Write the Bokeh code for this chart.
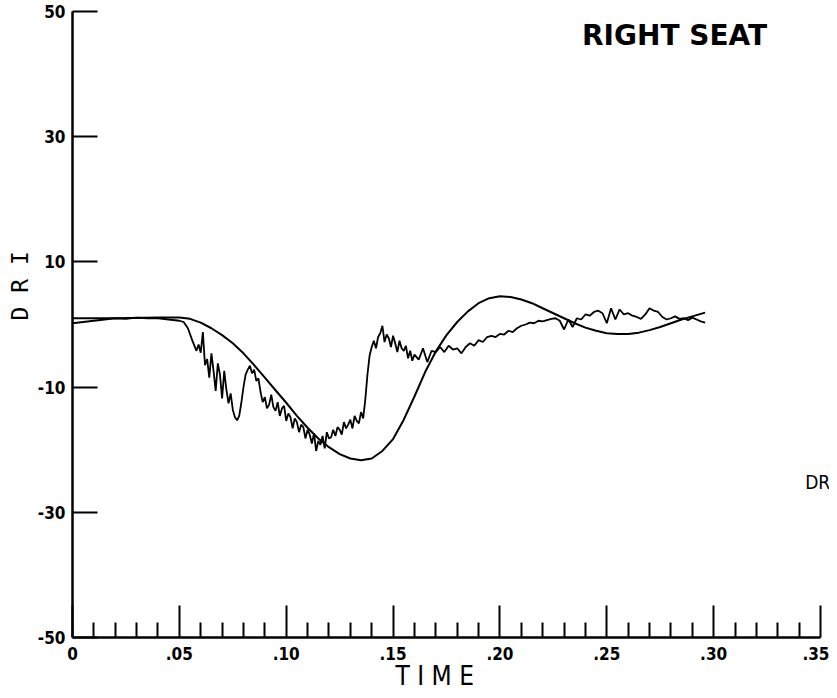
from bokeh.plotting import figure
from bokeh.models import FixedTicker, Label, Range1d, Title
from bokeh.embed import file_html
from bokeh.resources import INLINE

# ---------------- data ----------------
x_major = [0, 0.05, 0.1, 0.15, 0.2, 0.25, 0.3, 0.35]
x_tick_labels = ["0", ".05", ".10", ".15", ".20", ".25", ".30", ".35"]
x_minor = [0.01, 0.02, 0.03, 0.04, 0.06, 0.07, 0.08, 0.09, 0.11, 0.12, 0.13, 0.14,
           0.16, 0.17, 0.18, 0.19, 0.21, 0.22, 0.23, 0.24, 0.26, 0.27, 0.28, 0.29,
           0.31, 0.32, 0.33, 0.34]
y_major = [-50, -30, -10, 10, 30, 50]
y_tick_labels = ["-50", "-30", "-10", "10", "30", "50"]

# smooth (model) curve
smooth_t = [0.0, 0.02, 0.04, 0.05, 0.055, 0.06, 0.065, 0.07, 0.075, 0.08, 0.085, 0.09,
            0.095, 0.1, 0.105, 0.11, 0.115, 0.12, 0.125, 0.13, 0.135, 0.14, 0.145, 0.15,
            0.155, 0.16, 0.165, 0.17, 0.175, 0.18, 0.185, 0.19, 0.195, 0.2, 0.205, 0.21,
            0.215, 0.22, 0.225, 0.23, 0.235, 0.24, 0.245, 0.25, 0.255, 0.26, 0.265, 0.27,
            0.275, 0.28, 0.285, 0.29, 0.296]
smooth_dri = [1.0, 1.0, 1.1, 1.1, 0.9, 0.3, -0.6, -1.7, -3.0, -4.6, -6.5, -8.5,
              -10.5, -12.5, -14.6, -16.5, -18.2, -19.6, -20.7, -21.4, -21.7, -21.4, -20.2, -18.3,
              -15.2, -11.5, -7.6, -4.3, -1.7, 0.4, 2.1, 3.4, 4.2, 4.5, 4.4, 4.0,
              3.4, 2.6, 1.8, 1.0, 0.2, -0.5, -1.0, -1.4, -1.5, -1.5, -1.3, -0.9,
              -0.4, 0.2, 0.8, 1.3, 1.9]

# measured (test) curve
test_t = [0.0, 0.005, 0.01, 0.015, 0.02, 0.025, 0.03, 0.035, 0.04, 0.045, 0.05, 0.052,
          0.054, 0.056, 0.058, 0.059, 0.06, 0.061, 0.062, 0.063, 0.064, 0.065, 0.066, 0.067,
          0.068, 0.069, 0.07, 0.071, 0.072, 0.073, 0.074, 0.075, 0.076, 0.077, 0.078, 0.079,
          0.08, 0.081, 0.082, 0.083, 0.084, 0.085, 0.086, 0.087, 0.088, 0.089, 0.09, 0.091,
          0.092, 0.093, 0.094, 0.095, 0.096, 0.097, 0.098, 0.099, 0.1, 0.101, 0.102, 0.103,
          0.104, 0.105, 0.106, 0.107, 0.108, 0.109, 0.11, 0.111, 0.112, 0.113, 0.114, 0.115,
          0.116, 0.117, 0.118, 0.119, 0.12, 0.121, 0.122, 0.123, 0.124, 0.125, 0.126, 0.127,
          0.128, 0.129, 0.13, 0.131, 0.132, 0.133, 0.134, 0.135, 0.136, 0.137, 0.138, 0.139,
          0.14, 0.141, 0.142, 0.143, 0.144, 0.145, 0.146, 0.147, 0.148, 0.149, 0.15, 0.151,
          0.152, 0.153, 0.154, 0.155, 0.156, 0.157, 0.158, 0.159, 0.16, 0.162, 0.164, 0.166,
          0.168, 0.17, 0.172, 0.174, 0.176, 0.178, 0.18, 0.182, 0.184, 0.186, 0.188, 0.19,
          0.192, 0.194, 0.196, 0.198, 0.2, 0.202, 0.204, 0.206, 0.208, 0.21, 0.212, 0.214,
          0.216, 0.218, 0.22, 0.222, 0.224, 0.226, 0.228, 0.23, 0.232, 0.234, 0.236, 0.238,
          0.24, 0.242, 0.244, 0.246, 0.248, 0.25, 0.252, 0.254, 0.256, 0.258, 0.26, 0.262,
          0.264, 0.266, 0.268, 0.27, 0.272, 0.274, 0.276, 0.278, 0.28, 0.282, 0.284, 0.286,
          0.288, 0.29, 0.292, 0.294, 0.296]
test_dri = [0.2, 0.4, 0.6, 0.8, 1.0, 0.9, 1.1, 1.0, 1.0, 0.8, 0.6, 0.4,
            -0.6, -2.5, -4.2, -3.2, -4.5, -1.2, -6.5, -5.5, -8.5, -4.6, -7.4, -10.6,
            -6.2, -8.0, -11.8, -7.4, -10.4, -12.6, -11.0, -13.6, -14.8, -15.3, -14.6, -12.5,
            -10.0, -8.0, -7.2, -6.6, -7.8, -7.2, -9.0, -8.6, -10.8, -12.4, -11.6, -13.4,
            -12.8, -11.2, -13.2, -13.8, -12.4, -14.6, -13.4, -13.0, -15.4, -14.2, -14.8, -16.6,
            -15.0, -15.6, -17.2, -16.0, -16.4, -18.2, -16.8, -17.6, -19.0, -17.4, -20.2, -18.6,
            -19.2, -17.8, -19.8, -17.2, -18.2, -18.0, -16.8, -17.8, -16.4, -16.8, -17.6, -15.6,
            -16.6, -16.0, -15.2, -16.6, -14.6, -15.4, -15.8, -14.0, -15.0, -12.0, -8.0, -5.0,
            -3.6, -2.6, -3.8, -2.0, -1.4, -0.2, -2.8, -1.6, -2.2, -3.6, -1.8, -3.0,
            -4.4, -2.6, -3.8, -4.2, -3.4, -5.4, -4.2, -5.8, -4.8, -5.6, -3.8, -6.0,
            -4.2, -4.4, -3.6, -4.4, -3.4, -4.0, -3.8, -4.6, -3.6, -3.0, -3.4, -2.5,
            -2.8, -2.0, -1.8, -2.0, -1.5, -1.6, -1.0, -1.2, -0.6, -0.2, 0.0, 0.3,
            0.2, 0.6, 0.5, 0.7, 0.9, 1.0, 0.6, -0.8, 0.8, -0.4, 1.0, 0.8,
            1.6, 1.4, 2.0, 2.2, 1.8, 0.2, 2.6, 0.8, 2.4, 1.6, 1.8, 1.4,
            1.2, 0.9, 1.6, 2.6, 2.2, 2.0, 1.2, 0.8, 1.0, 1.3, 0.9, 1.0,
            0.7, 1.1, 0.8, 0.5, 0.3]

# ---------------- figure ----------------
FONT = "DejaVu Sans Condensed, Liberation Sans"
p = figure(width=829, height=690, output_backend="svg", toolbar_location=None,
           x_range=Range1d(0, 0.3542), y_range=Range1d(-50, 50),
           min_border_left=72, min_border_right=0, min_border_top=11, min_border_bottom=53)
p.outline_line_color = None
p.grid.visible = False
p.background_fill_color = "white"

xa = p.xaxis[0]
xa.ticker = FixedTicker(ticks=x_major, minor_ticks=x_minor)
xa.major_label_overrides = {v: s for v, s in zip(x_major, x_tick_labels)}
xa.bounds = (0, 0.35)
xa.major_tick_in = 32
xa.major_tick_out = 0
xa.minor_tick_in = 15
xa.minor_tick_out = 0
xa.axis_line_width = 2.5
xa.major_tick_line_width = 2
xa.minor_tick_line_width = 2
xa.major_label_text_font = FONT
xa.major_label_text_font_style = "bold"
xa.major_label_text_font_size = "17px"
xa.major_label_text_color = "black"
xa.major_label_standoff = 9

ya = p.yaxis[0]
ya.ticker = FixedTicker(ticks=y_major)
ya.major_label_overrides = {v: s for v, s in zip(y_major, y_tick_labels)}
ya.major_tick_in = 25
ya.major_tick_out = 0
ya.minor_tick_line_color = None
ya.axis_line_width = 2.5
ya.major_tick_line_width = 2
ya.major_label_text_font = FONT
ya.major_label_text_font_style = "bold"
ya.major_label_text_font_size = "17px"
ya.major_label_text_color = "black"
ya.major_label_standoff = 7

p.line(smooth_t, smooth_dri, line_color="black", line_width=2)
p.line(test_t, test_dri, line_color="black", line_width=1.8)

p.add_layout(Label(x=0.2817, y=46.2, text="RIGHT SEAT", text_font="DejaVu Sans",
                   text_font_style="bold", text_font_size="28px", text_align="center",
                   text_baseline="middle", text_color="black"))
p.add_layout(Label(x=0.3428, y=-25.2, text="DR", text_font=FONT,
                   text_font_size="19px", text_align="left", text_baseline="middle",
                   text_color="black"))

p.add_layout(Title(text="T I M E", align="left", offset=323, standoff=-7,
                   text_font=FONT, text_font_size="26px", text_font_style="normal",
                   text_color="black"), "below")
p.add_layout(Title(text="D R I", align="left", offset=317, standoff=4,
                   text_font="DejaVu Sans Mono", text_font_size="23px",
                   text_font_style="normal", text_color="black"), "left")

open("out.html", "w").write(file_html(p, INLINE))
